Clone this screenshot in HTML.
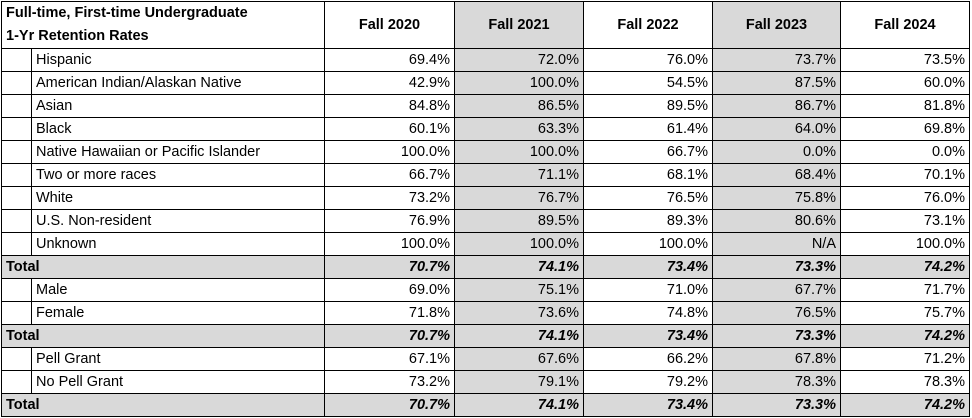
<!DOCTYPE html>
<html><head><style>
body{margin:0;background:#fff;width:972px;height:418px;overflow:hidden}
table{position:absolute;left:1px;top:1px;border-collapse:collapse;table-layout:fixed;font-family:"Liberation Sans",Arial,sans-serif;font-size:14.5px;color:#000}
td{border:1px solid #000;height:22px;padding:0 4px;white-space:nowrap;text-align:right;overflow:hidden}
td.l{text-align:left}
tr.h td{height:45px;font-weight:bold;text-align:center}
tr.h td.l{text-align:left;line-height:23px}
.g{background:#d9d9d9}
tr.t td{background:#d9d9d9;font-weight:bold;font-style:italic}
tr.t td.l{font-style:normal}
</style></head><body>
<table>
<colgroup><col style="width:30px"><col style="width:293px"><col style="width:130px"><col style="width:129px"><col style="width:129px"><col style="width:128px"><col style="width:129px"></colgroup>
<tr class="h"><td class="l" colspan="2">Full-time, First-time Undergraduate<br>1-Yr Retention Rates</td><td>Fall 2020</td><td class="g">Fall 2021</td><td>Fall 2022</td><td class="g">Fall 2023</td><td>Fall 2024</td></tr>
<tr><td></td><td class="l">Hispanic</td><td>69.4%</td><td class="g">72.0%</td><td>76.0%</td><td class="g">73.7%</td><td>73.5%</td></tr>
<tr><td></td><td class="l">American Indian/Alaskan Native</td><td>42.9%</td><td class="g">100.0%</td><td>54.5%</td><td class="g">87.5%</td><td>60.0%</td></tr>
<tr><td></td><td class="l">Asian</td><td>84.8%</td><td class="g">86.5%</td><td>89.5%</td><td class="g">86.7%</td><td>81.8%</td></tr>
<tr><td></td><td class="l">Black</td><td>60.1%</td><td class="g">63.3%</td><td>61.4%</td><td class="g">64.0%</td><td>69.8%</td></tr>
<tr><td></td><td class="l">Native Hawaiian or Pacific Islander</td><td>100.0%</td><td class="g">100.0%</td><td>66.7%</td><td class="g">0.0%</td><td>0.0%</td></tr>
<tr><td></td><td class="l">Two or more races</td><td>66.7%</td><td class="g">71.1%</td><td>68.1%</td><td class="g">68.4%</td><td>70.1%</td></tr>
<tr><td></td><td class="l">White</td><td>73.2%</td><td class="g">76.7%</td><td>76.5%</td><td class="g">75.8%</td><td>76.0%</td></tr>
<tr><td></td><td class="l">U.S. Non-resident</td><td>76.9%</td><td class="g">89.5%</td><td>89.3%</td><td class="g">80.6%</td><td>73.1%</td></tr>
<tr><td></td><td class="l">Unknown</td><td>100.0%</td><td class="g">100.0%</td><td>100.0%</td><td class="g">N/A</td><td>100.0%</td></tr>
<tr class="t"><td class="l" colspan="2">Total</td><td>70.7%</td><td>74.1%</td><td>73.4%</td><td>73.3%</td><td>74.2%</td></tr>
<tr><td></td><td class="l">Male</td><td>69.0%</td><td class="g">75.1%</td><td>71.0%</td><td class="g">67.7%</td><td>71.7%</td></tr>
<tr><td></td><td class="l">Female</td><td>71.8%</td><td class="g">73.6%</td><td>74.8%</td><td class="g">76.5%</td><td>75.7%</td></tr>
<tr class="t"><td class="l" colspan="2">Total</td><td>70.7%</td><td>74.1%</td><td>73.4%</td><td>73.3%</td><td>74.2%</td></tr>
<tr><td></td><td class="l">Pell Grant</td><td>67.1%</td><td class="g">67.6%</td><td>66.2%</td><td class="g">67.8%</td><td>71.2%</td></tr>
<tr><td></td><td class="l">No Pell Grant</td><td>73.2%</td><td class="g">79.1%</td><td>79.2%</td><td class="g">78.3%</td><td>78.3%</td></tr>
<tr class="t"><td class="l" colspan="2">Total</td><td>70.7%</td><td>74.1%</td><td>73.4%</td><td>73.3%</td><td>74.2%</td></tr>
</table>
</body></html>
